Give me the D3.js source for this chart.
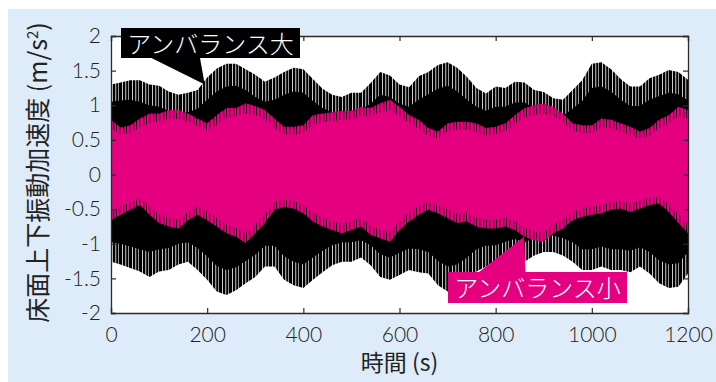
<!DOCTYPE html>
<html><head><meta charset="utf-8">
<script src="https://cdn.jsdelivr.net/npm/d3@7"></script>
<style>html,body{margin:0;padding:0;background:#fff}svg{display:block}</style>
</head><body>
<script>
// ---- data ----
const times = [0,20,40,60,80,100,120,140,160,180,200,220,240,260,280,300,320,340,360,380,400,420,440,460,480,500,520,540,560,580,600,620,640,660,680,700,720,740,760,780,800,820,840,860,880,900,920,940,960,980,1000,1020,1040,1060,1080,1100,1120,1140,1160,1180,1200];
// アンバランス大 (black): spike-tip envelope and dense (solid) envelope
const bigTop = [1.30,1.33,1.36,1.36,1.30,1.28,1.20,1.15,1.18,1.22,1.40,1.53,1.60,1.60,1.52,1.44,1.34,1.40,1.48,1.54,1.52,1.38,1.24,1.15,1.12,1.18,1.18,1.32,1.48,1.43,1.30,1.26,1.42,1.48,1.58,1.62,1.54,1.41,1.25,1.17,1.27,1.25,1.34,1.33,1.22,1.19,1.10,1.08,1.22,1.36,1.60,1.62,1.52,1.38,1.27,1.27,1.39,1.44,1.51,1.48,1.37];
const bigTopDense = [1.05,1.07,1.08,1.05,1.00,0.98,0.92,0.88,0.90,0.95,1.08,1.20,1.27,1.28,1.22,1.12,1.05,1.08,1.15,1.20,1.18,1.06,0.96,0.90,0.88,0.92,0.94,1.02,1.15,1.12,1.02,0.98,1.08,1.16,1.24,1.28,1.20,1.08,0.98,0.92,0.98,0.98,1.04,1.04,0.96,0.92,0.86,0.85,0.95,1.06,1.25,1.27,1.20,1.08,0.99,0.99,1.08,1.13,1.18,1.16,1.07];
const bigBot = [-1.26,-1.30,-1.35,-1.40,-1.48,-1.40,-1.38,-1.30,-1.26,-1.38,-1.52,-1.69,-1.74,-1.67,-1.57,-1.48,-1.33,-1.33,-1.52,-1.60,-1.64,-1.52,-1.41,-1.31,-1.26,-1.26,-1.20,-1.31,-1.48,-1.52,-1.45,-1.38,-1.41,-1.43,-1.60,-1.69,-1.65,-1.55,-1.40,-1.33,-1.31,-1.24,-1.19,-1.26,-1.17,-1.12,-1.12,-1.17,-1.26,-1.38,-1.38,-1.33,-1.38,-1.38,-1.41,-1.33,-1.43,-1.57,-1.64,-1.62,-1.43];
const bigBotDense = [-0.98,-1.00,-1.04,-1.08,-1.12,-1.08,-1.06,-1.00,-0.98,-1.06,-1.18,-1.32,-1.38,-1.34,-1.25,-1.16,-1.03,-1.03,-1.18,-1.26,-1.30,-1.20,-1.10,-1.02,-0.98,-0.98,-0.95,-1.02,-1.15,-1.20,-1.13,-1.07,-1.08,-1.12,-1.25,-1.33,-1.30,-1.20,-1.08,-1.03,-1.02,-0.97,-0.93,-0.98,-0.92,-0.88,-0.88,-0.92,-0.98,-1.08,-1.08,-1.04,-1.08,-1.08,-1.10,-1.05,-1.12,-1.24,-1.30,-1.28,-1.12];
// アンバランス小 (magenta)
const smallTop = [0.79,0.68,0.71,0.81,0.88,0.88,0.93,0.93,0.88,0.81,0.74,0.86,0.96,0.96,1.03,0.99,0.93,0.81,0.69,0.69,0.71,0.86,0.88,0.90,0.92,0.92,0.98,0.96,1.03,1.08,0.98,0.86,0.79,0.67,0.62,0.74,0.76,0.76,0.74,0.67,0.69,0.74,0.86,0.96,1.00,1.03,0.98,0.88,0.74,0.71,0.71,0.81,0.79,0.74,0.69,0.62,0.67,0.79,0.86,0.98,0.93];
const smallTopDense = [0.66,0.58,0.60,0.68,0.74,0.76,0.80,0.80,0.76,0.70,0.63,0.72,0.82,0.84,0.88,0.86,0.80,0.68,0.58,0.57,0.60,0.72,0.76,0.77,0.79,0.80,0.84,0.84,0.90,0.93,0.85,0.74,0.66,0.56,0.52,0.62,0.65,0.65,0.62,0.56,0.58,0.62,0.73,0.82,0.86,0.88,0.85,0.76,0.63,0.60,0.60,0.68,0.67,0.62,0.57,0.52,0.56,0.67,0.74,0.84,0.80];
const smallBot = [-0.66,-0.58,-0.51,-0.44,-0.58,-0.70,-0.75,-0.78,-0.66,-0.58,-0.66,-0.75,-0.85,-0.90,-0.99,-0.85,-0.70,-0.51,-0.47,-0.49,-0.56,-0.68,-0.75,-0.80,-0.85,-0.80,-0.75,-0.87,-0.92,-0.97,-0.80,-0.68,-0.58,-0.51,-0.56,-0.63,-0.70,-0.68,-0.75,-0.78,-0.78,-0.75,-0.80,-0.90,-0.95,-0.97,-0.85,-0.78,-0.66,-0.61,-0.58,-0.56,-0.51,-0.49,-0.54,-0.49,-0.44,-0.42,-0.54,-0.70,-0.85];
const smallBotDense = [-0.54,-0.46,-0.40,-0.34,-0.46,-0.57,-0.62,-0.65,-0.54,-0.46,-0.53,-0.62,-0.72,-0.77,-0.84,-0.72,-0.57,-0.40,-0.36,-0.38,-0.44,-0.55,-0.62,-0.67,-0.72,-0.67,-0.62,-0.74,-0.79,-0.83,-0.67,-0.55,-0.46,-0.40,-0.44,-0.50,-0.57,-0.55,-0.62,-0.65,-0.65,-0.62,-0.67,-0.77,-0.82,-0.84,-0.72,-0.65,-0.54,-0.49,-0.46,-0.44,-0.40,-0.38,-0.42,-0.38,-0.34,-0.32,-0.42,-0.57,-0.72];

const xTicks = [0,200,400,600,800,1000,1200];
const yTicks = [-2,-1.5,-1,-0.5,0,0.5,1,1.5,2];
const labelBig = "アンバランス大";
const labelSmall = "アンバランス小";
const xTitle = "時間 (s)";
const yTitle = "床面上下振動加速度 (m/s";

// ---- drawing ----
const W = 716, H = 382;
const BLACK = "#000000", MAG = "#e4007f", BG = "#deebf8", AXIS = "#2b2b2b";
const svg = d3.select("body").append("svg").attr("width", W).attr("height", H);

svg.append("rect").attr("x", 8).attr("y", 9).attr("width", W - 8).attr("height", H - 9).attr("fill", BG);

const x = d3.scaleLinear().domain([0, 1200]).range([111, 688]);
const y = d3.scaleLinear().domain([-2, 2]).range([313, 36]);

svg.append("rect").attr("x", x(0)).attr("y", y(2)).attr("width", x(1200) - x(0)).attr("height", y(-2) - y(2)).attr("fill", "#fff");

const defs = svg.append("defs");
defs.append("clipPath").attr("id", "clip").append("rect")
  .attr("x", x(0)).attr("y", y(2)).attr("width", x(1200) - x(0)).attr("height", y(-2) - y(2));
// irregular vertical stripes to suggest the dense oscillation spikes
const pb = defs.append("pattern").attr("id", "stripeBlack").attr("patternUnits", "userSpaceOnUse")
  .attr("width", 10).attr("height", 8);
[[0, 2.2], [3, 2.4], [6.2, 1.8], [8.6, 1.4]].forEach(([px, pw]) =>
  pb.append("rect").attr("x", px).attr("y", 0).attr("width", pw).attr("height", 8).attr("fill", BLACK));
const pm = defs.append("pattern").attr("id", "stripeMag").attr("patternUnits", "userSpaceOnUse")
  .attr("width", 10).attr("height", 8).attr("x", 1);
[[0, 2.4], [3.2, 2.0], [6, 2.6], [9.2, 0.8]].forEach(([px, pw]) =>
  pm.append("rect").attr("x", px).attr("y", 0).attr("width", pw).attr("height", 8).attr("fill", MAG));

const idx = d3.range(times.length);
const band = (lo, hi) => d3.area().x(i => x(times[i])).y0(i => y(lo[i])).y1(i => y(hi[i])).curve(d3.curveLinear)(idx);

const g = svg.append("g").attr("clip-path", "url(#clip)");
g.append("path").attr("d", band(bigBot, bigTop)).attr("fill", "url(#stripeBlack)");
g.append("path").attr("d", band(bigBotDense, bigTopDense)).attr("fill", BLACK);
g.append("path").attr("d", band(smallBot, smallTop)).attr("fill", "url(#stripeMag)");
g.append("path").attr("d", band(smallBotDense, smallTopDense)).attr("fill", MAG);

// axes (ticks inward on all four sides)
const tickFont = "Lato, Roboto, 'Liberation Sans', sans-serif";
const fmt = d => String(d);
const ax = svg.append("g").attr("transform", `translate(0,${y(-2)})`)
  .call(d3.axisBottom(x).tickValues(xTicks).tickSize(-5).tickPadding(14).tickFormat(fmt));
const ay = svg.append("g").attr("transform", `translate(${x(0)},0)`)
  .call(d3.axisLeft(y).tickValues(yTicks).tickSize(-5).tickPadding(10).tickFormat(fmt));
const at = svg.append("g").attr("transform", `translate(0,${y(2)})`)
  .call(d3.axisTop(x).tickValues(xTicks).tickSize(-5).tickFormat(""));
const ar = svg.append("g").attr("transform", `translate(${x(1200)},0)`)
  .call(d3.axisRight(y).tickValues(yTicks).tickSize(-5).tickFormat(""));
[ax, ay, at, ar].forEach(a => {
  a.select(".domain").attr("stroke", AXIS).attr("stroke-width", 1.3);
  a.selectAll(".tick line").attr("stroke", AXIS).attr("stroke-width", 1.2);
  a.selectAll(".tick text").attr("fill", "#222").style("font-family", tickFont)
    .style("font-weight", 300).style("font-size", "21px");
});

// titles
const jp = "'Noto Sans CJK JP', 'Noto Sans', sans-serif";
svg.append("text").attr("x", (x(0) + x(1200)) / 2).attr("y", 371).attr("text-anchor", "middle")
  .style("font-family", jp).style("font-weight", 400).style("font-size", "23px").attr("fill", "#222").text(xTitle);
const yt = svg.append("text").attr("transform", `translate(47,${(y(2) + y(-2)) / 2 - 2}) rotate(-90)`)
  .attr("text-anchor", "middle").style("font-family", jp).style("font-weight", 400).style("font-size", "25px").attr("fill", "#222");
yt.append("tspan").text(yTitle);
yt.append("tspan").attr("dy", -9).style("font-size", "15px").text("2");
yt.append("tspan").attr("dy", 9).text(")");

// annotations
const tipBig = [x(195), y(1.3)];
svg.append("path").attr("d", `M151.5,58 L200,58 L${tipBig[0]},${tipBig[1]} Z`).attr("fill", BLACK);
svg.append("rect").attr("x", 121).attr("y", 28).attr("width", 179).attr("height", 30).attr("fill", BLACK);
svg.append("text").attr("x", 210.5).attr("y", 53).attr("text-anchor", "middle")
  .style("font-family", jp).style("font-weight", 300).style("font-size", "24px").attr("fill", "#fff").text(labelBig);

const tipSmall = [x(859), y(-0.9)];
svg.append("path").attr("d", `M479,272 L${tipSmall[0]},${tipSmall[1]} L525.5,272 Z`).attr("fill", MAG);
svg.append("rect").attr("x", 448).attr("y", 272).attr("width", 179).attr("height", 31).attr("fill", MAG);
svg.append("text").attr("x", 537.5).attr("y", 297).attr("text-anchor", "middle")
  .style("font-family", jp).style("font-weight", 300).style("font-size", "24px").attr("fill", "#fff").text(labelSmall);
</script>
</body></html>
